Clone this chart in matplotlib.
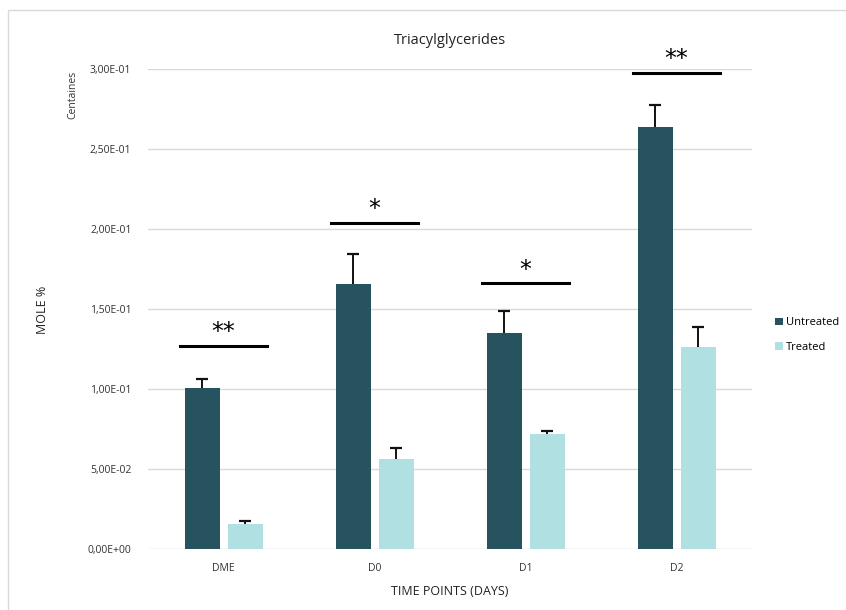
import matplotlib
matplotlib.use("Agg")
import matplotlib.pyplot as plt
import numpy as np
from matplotlib.ticker import FuncFormatter
from matplotlib.patches import Rectangle

categories = ["DME", "D0", "D1", "D2"]
untreated = [0.1006, 0.1656, 0.135, 0.264]
untreated_err = [0.0055, 0.019, 0.014, 0.0135]
treated = [0.0159, 0.0563, 0.0719, 0.126]
treated_err = [0.0016, 0.0068, 0.0019, 0.013]
sig_labels = ["**", "*", "*", "**"]
sig_heights = [0.127, 0.204, 0.166, 0.2975]

plt.rcParams['font.family'] = ['Open Sans', 'DejaVu Sans']

fig = plt.figure(figsize=(8.46, 6.10), dpi=100)
ax = fig.add_axes([148/846, 1-549/610, (752-148)/846, (549-69)/610])

x = np.arange(len(categories))
bw = 35/151
off = 43/151/2
c_un = "#27535F"
c_tr = "#B0E0E2"

ax.bar(x - off, untreated, bw, color=c_un, label="Untreated", zorder=3)
ax.bar(x + off, treated, bw, color=c_tr, label="Treated", zorder=3)

def upper_err(xs, vals, errs):
    vals = np.asarray(vals)
    tops = vals + np.asarray(errs)
    ax.vlines(xs, vals, tops, color="#111111", lw=1.4, zorder=4)
    ax.plot(xs, tops, ls="none", marker="_", ms=8, mew=1.6, color="#111111", zorder=4)

upper_err(x - off, untreated, untreated_err)
upper_err(x + off, treated, treated_err)

for xi, lab, h in zip(x, sig_labels, sig_heights):
    ax.plot([xi - 0.29, xi + 0.29], [h, h], color="black", lw=2.2, clip_on=False, zorder=5)
    ax.text(xi, h + 0.001, lab, ha="center", va="bottom", fontsize=17,
            family="DejaVu Sans", clip_on=False)

ax.set_xlim(-0.5, 3.5)
ax.set_ylim(0, 0.30)
ax.set_yticks(np.arange(0, 0.301, 0.05))
ax.yaxis.set_major_formatter(FuncFormatter(lambda v, p: ("%.2E" % v).replace(".", ",")))
ax.set_xticks(x)
ax.set_xticklabels(categories)
ax.tick_params(axis="both", length=0, labelsize=7.5, colors="#333333")
ax.tick_params(axis="x", pad=10)
ax.tick_params(axis="y", pad=12)
ax.grid(axis="y", color="#d9d9d9", lw=1, zorder=0)
for s in ax.spines.values():
    s.set_visible(False)

ax.set_title("Triacylglycerides", fontsize=10.5, color="#222222", pad=18)
ax.set_xlabel("TIME POINTS (DAYS)", fontsize=9, color="#222222", labelpad=8)
fig.text(42/846, 1-310/610, "MOLE %", rotation=90, ha="center", va="center",
         fontsize=9, color="#222222")
fig.text(73/846, 1-95/610, "Centaines", rotation=90, ha="center", va="center",
         fontsize=7.5, color="#333333")

ax.legend(loc="center left", bbox_to_anchor=(765/846, 1-335/610),
          bbox_transform=fig.transFigure, frameon=False, fontsize=8,
          handlelength=0.7, handleheight=0.7, handletextpad=0.3, labelspacing=1.2)

fig.patches.append(Rectangle((8/846, -0.01), 1.0, 1-10/610 + 0.01,
                             transform=fig.transFigure, fill=False,
                             edgecolor="#d9d9d9", lw=1))

fig.savefig("out.png", dpi=100)
